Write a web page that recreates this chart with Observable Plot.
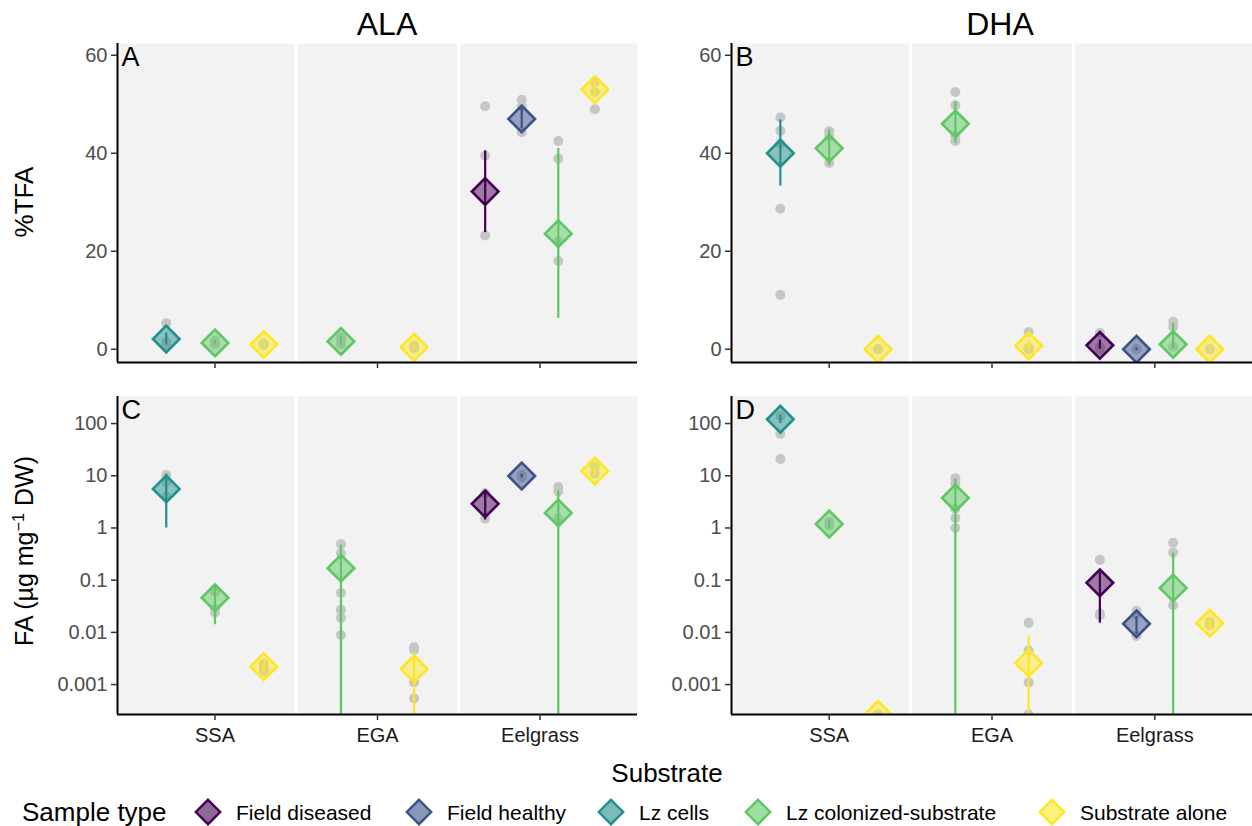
<!DOCTYPE html>
<html>
<head>
<meta charset="utf-8">
<script src="https://cdn.jsdelivr.net/npm/d3@7"></script>
<script src="https://cdn.jsdelivr.net/npm/@observablehq/plot@0.6"></script>
<style>
  body { margin: 0; width: 1252px; height: 826px; position: relative; background: #fff; overflow: hidden;
         font-family: "Liberation Sans", Arial, Helvetica, sans-serif; color: #000; }
  .abs { position: absolute; }
  .ctr { transform: translate(-50%, -50%); white-space: nowrap; }
  .rot { transform: translate(-50%, -50%) rotate(-90deg); white-space: nowrap; }
  .lg { position: absolute; top: 812px; transform: translateY(-50%); white-space: nowrap; line-height: 1; }
</style>
</head>
<body>
<script>
// ---------- categories ----------
const sampleTypes = ["Field diseased", "Field healthy", "Lz cells", "Lz colonized-substrate", "Substrate alone"];
const typeColors = ["#440154", "#3B528B", "#21908C", "#5DC863", "#FDE725"];
const substrates = ["SSA", "EGA", "Eelgrass"];
const fattyAcids = ["ALA", "DHA"];
const pctTicks = [0, 20, 40, 60];
const faTicks = [0.001, 0.01, 0.1, 1, 10, 100];

// ---------- summaries: [substrate, sample type, mean, lower, upper] ----------
const alaPctSummary = [
  ["SSA", "Lz cells", 2.1, 0.9, 3.3],
  ["SSA", "Lz colonized-substrate", 1.3, 0.9, 1.8],
  ["SSA", "Substrate alone", 1.0, 0.8, 1.2],
  ["EGA", "Lz colonized-substrate", 1.6, 0.8, 2.5],
  ["EGA", "Substrate alone", 0.4, 0.1, 0.8],
  ["Eelgrass", "Field diseased", 32.2, 23.8, 40.5],
  ["Eelgrass", "Field healthy", 47.0, 45.0, 49.5],
  ["Eelgrass", "Lz colonized-substrate", 23.6, 6.3, 41.0],
  ["Eelgrass", "Substrate alone", 53.0, 51.5, 54.5]
];
const dhaPctSummary = [
  ["SSA", "Lz cells", 40.0, 33.3, 46.8],
  ["SSA", "Lz colonized-substrate", 41.0, 37.5, 44.8],
  ["SSA", "Substrate alone", 0.0, 0.0, 0.0],
  ["EGA", "Lz colonized-substrate", 46.0, 42.0, 50.5],
  ["EGA", "Substrate alone", 0.7, 0.0, 1.8],
  ["Eelgrass", "Field diseased", 0.8, 0.0, 1.9],
  ["Eelgrass", "Field healthy", 0.0, -0.3, 0.3],
  ["Eelgrass", "Lz colonized-substrate", 1.0, 0.2, 5.3],
  ["Eelgrass", "Substrate alone", 0.0, 0.0, 0.0]
];
const alaFaSummary = [
  ["SSA", "Lz cells", 5.6, 1.0, 10.8],
  ["SSA", "Lz colonized-substrate", 0.046, 0.014, 0.078],
  ["SSA", "Substrate alone", 0.0022, 0.0017, 0.0028],
  ["EGA", "Lz colonized-substrate", 0.17, 0, 0.47],
  ["EGA", "Substrate alone", 0.002, 0, 0.0039],
  ["Eelgrass", "Field diseased", 2.9, 1.42, 5.1],
  ["Eelgrass", "Field healthy", 9.9, 9.0, 10.8],
  ["Eelgrass", "Lz colonized-substrate", 1.94, 0, 5.1],
  ["Eelgrass", "Substrate alone", 12.3, 10.5, 14.5]
];
const dhaFaSummary = [
  ["SSA", "Lz cells", 121, 100, 145],
  ["SSA", "Lz colonized-substrate", 1.19, 1.0, 1.4],
  ["SSA", "Substrate alone", 0, 0, 0],
  ["EGA", "Lz colonized-substrate", 3.75, 0, 8.7],
  ["EGA", "Substrate alone", 0.0026, 0, 0.0086],
  ["Eelgrass", "Field diseased", 0.089, 0.015, 0.14],
  ["Eelgrass", "Field healthy", 0.0146, 0.009, 0.02],
  ["Eelgrass", "Lz colonized-substrate", 0.071, 0, 0.33],
  ["Eelgrass", "Substrate alone", 0.015, 0.012, 0.019]
];

// ---------- replicate values: [substrate, sample type, values] ----------
const alaPctRaw = [
  ["SSA", "Lz cells", [5.3, 1.5, 0.8]],
  ["SSA", "Lz colonized-substrate", [1.8, 1.0, 1.2]],
  ["SSA", "Substrate alone", [1.2, 0.9, 1.0]],
  ["EGA", "Lz colonized-substrate", [2.4, 1.0, 1.5]],
  ["EGA", "Substrate alone", [0.7, 0.2, 0.3]],
  ["Eelgrass", "Field diseased", [49.6, 39.5, 23.2]],
  ["Eelgrass", "Field healthy", [50.9, 49.6, 44.3]],
  ["Eelgrass", "Lz colonized-substrate", [42.5, 38.9, 18.0, 22.0]],
  ["Eelgrass", "Substrate alone", [54.5, 52.5, 49.0]]
];
const dhaPctRaw = [
  ["SSA", "Lz cells", [47.3, 44.6, 42.0, 28.7, 11.1]],
  ["SSA", "Lz colonized-substrate", [44.5, 43.5, 38.0]],
  ["SSA", "Substrate alone", [0, 0, 0]],
  ["EGA", "Lz colonized-substrate", [52.5, 49.8, 43.5, 42.5]],
  ["EGA", "Substrate alone", [3.5, 0, 0.3]],
  ["Eelgrass", "Field diseased", [3.3, 0.5, 0]],
  ["Eelgrass", "Field healthy", [0.1, 0, 0]],
  ["Eelgrass", "Lz colonized-substrate", [5.6, 4.6, 0.5]],
  ["Eelgrass", "Substrate alone", [0, 0]]
];
const alaFaRaw = [
  ["SSA", "Lz cells", [10.3, 7.5, 4.0]],
  ["SSA", "Lz colonized-substrate", [0.06, 0.028, 0.024]],
  ["SSA", "Substrate alone", [0.0025, 0.002, 0.0018]],
  ["EGA", "Lz colonized-substrate", [0.49, 0.33, 0.057, 0.027, 0.019, 0.0089]],
  ["EGA", "Substrate alone", [0.0052, 0.0046, 0.0011, 0.00054]],
  ["Eelgrass", "Field diseased", [4.6, 1.5]],
  ["Eelgrass", "Field healthy", [10.5, 9.3]],
  ["Eelgrass", "Lz colonized-substrate", [6.1, 5.0, 1.5]],
  ["Eelgrass", "Substrate alone", [15, 11]]
];
const dhaFaRaw = [
  ["SSA", "Lz cells", [140, 63, 21]],
  ["SSA", "Lz colonized-substrate", [1.3, 1.1]],
  ["SSA", "Substrate alone", [0, 0]],
  ["EGA", "Lz colonized-substrate", [9.0, 7.0, 2.3, 1.55, 1.0]],
  ["EGA", "Substrate alone", [0.0152, 0.0045, 0.0011, 0]],
  ["Eelgrass", "Field diseased", [0.245, 0.023, 0.021]],
  ["Eelgrass", "Field healthy", [0.026, 0.022, 0.0085]],
  ["Eelgrass", "Lz colonized-substrate", [0.52, 0.34, 0.033]],
  ["Eelgrass", "Substrate alone", [0.016, 0.014]]
];

// ---------- helpers ----------
const DODGE = 0.9;
function dodgeX(summary) {
  const pos = new Map();
  for (const s of substrates) {
    const present = sampleTypes.filter(t => summary.some(r => r[0] === s && r[1] === t));
    const n = present.length;
    present.forEach((t, i) => {
      pos.set(s + "|" + t, substrates.indexOf(s) + 1 + (i - (n - 1) / 2) * (DODGE / n));
    });
  }
  return pos;
}

function makePanel(cfg) {
  const isLog = cfg.yType === "log";
  const fix = v => isLog ? Math.max(v, 1e-9) : v;
  const pos = dodgeX(cfg.summary);
  const summ = cfg.summary.map(([s, t, m, lo, hi]) => ({x: pos.get(s + "|" + t), type: t, mean: fix(m), lo: fix(lo), hi: fix(hi)}));
  const raw = cfg.raw.flatMap(([s, t, vals]) => vals.map(v => ({x: pos.get(s + "|" + t), type: t, v: fix(v)})));
  return Plot.plot({
    width: cfg.width, height: cfg.height,
    marginLeft: cfg.marginLeft, marginRight: cfg.marginRight,
    marginTop: cfg.marginTop, marginBottom: cfg.marginBottom,
    x: {domain: [0.4, 3.6]},
    y: {type: cfg.yType, domain: cfg.yDomain, clamp: true},
    color: {domain: sampleTypes, range: typeColors},
    style: {background: "transparent", fontFamily: '"Liberation Sans", Arial, sans-serif', fontSize: "20px", overflow: "visible"},
    marks: [
      Plot.frame({fill: "#f2f2f2", stroke: "none"}),
      Plot.ruleX([1.5, 2.5], {stroke: "white", strokeWidth: 3}),
      Plot.dot(raw, {x: "x", y: "v", r: 5, fill: "#c6c6c6", stroke: "none", clip: true}),
      Plot.ruleX(summ, {x: "x", y1: "lo", y2: "hi", stroke: "type", strokeWidth: 2.2, clip: true}),
      Plot.dot(summ, {x: "x", y: "mean", symbol: "diamond2", r: 12, fill: "type", fillOpacity: 0.5,
                      stroke: "type", strokeWidth: 2.6, clip: true}),
      Plot.ruleX([0.4], {stroke: "#000", strokeWidth: 2}),
      Plot.ruleY([cfg.yDomain[0]], {stroke: "#000", strokeWidth: 2}),
      Plot.axisX({ticks: [1, 2, 3], tickFormat: cfg.showX ? (d => substrates[d - 1]) : (() => ""),
                  tickSize: 6, tickPadding: 7, label: null, stroke: "#333", fill: "#1a1a1a", strokeWidth: 1.5, fontSize: 20}),
      Plot.axisY({ticks: cfg.yTicks, tickFormat: d => String(d), tickSize: 6, tickPadding: 4,
                  label: null, stroke: "#333", fill: "#4d4d4d", strokeWidth: 1.5, fontSize: 20}),
      Plot.text([cfg.letter], {frameAnchor: "top-left", dx: 4, dy: 3, fontSize: 27, lineAnchor: "top", fill: "#000"})
    ]
  });
}

function place(node, left, top) {
  node.style.position = "absolute";
  node.style.left = left + "px";
  node.style.top = top + "px";
  document.body.appendChild(node);
}

const row1 = {yType: "linear", yDomain: [-2.7, 62.4], yTicks: pctTicks, marginTop: 5, marginBottom: 12, height: 5 + 319 + 12, showX: false};
const row2 = {yType: "log", yDomain: [2.67e-4, 330], yTicks: faTicks, marginTop: 5, marginBottom: 45, height: 5 + 318 + 45, showX: true};
const col1 = {width: 80 + 520, marginLeft: 80, marginRight: 0};
const col2 = {width: 80 + 521, marginLeft: 80, marginRight: 0};

place(makePanel({...row1, ...col1, summary: alaPctSummary, raw: alaPctRaw, letter: "A"}), 37, 38);
place(makePanel({...row1, ...col2, summary: dhaPctSummary, raw: dhaPctRaw, letter: "B"}), 651, 38);
place(makePanel({...row2, ...col1, summary: alaFaSummary, raw: alaFaRaw, letter: "C"}), 37, 391);
place(makePanel({...row2, ...col2, summary: dhaFaSummary, raw: dhaFaRaw, letter: "D"}), 651, 391);

// ---------- titles ----------
function label(html, x, y, size, cls) {
  const d = document.createElement("div");
  d.className = "abs " + cls;
  d.style.left = x + "px"; d.style.top = y + "px"; d.style.fontSize = size + "px";
  d.innerHTML = html;
  document.body.appendChild(d);
}
label(fattyAcids[0], 387, 24, 32, "ctr");
label(fattyAcids[1], 1000, 24, 32, "ctr");
label("%TFA", 24, 202, 26, "rot");
label("FA (µg mg<sup style='font-size:0.65em;vertical-align:0.55em;line-height:0'>−1</sup> DW)", 24, 551, 25, "rot");
label("Substrate", 667, 773, 26, "ctr");

// ---------- legend ----------
const legendKeyCenters = [208, 419, 611, 758, 1052];
function legendItem(html, left, size) {
  const d = document.createElement("div");
  d.className = "lg";
  d.style.left = left + "px";
  d.style.fontSize = size + "px";
  d.innerHTML = html;
  document.body.appendChild(d);
}
legendItem("Sample type", 22, 26);
sampleTypes.forEach((t, i) => {
  const c = typeColors[i];
  const cx = legendKeyCenters[i];
  legendItem(`<svg width="28" height="28" viewBox="0 0 28 28" style="display:block">
    <path d="M14 1.8 L26.2 14 L14 26.2 L1.8 14 Z" fill="${c}" fill-opacity="0.6" stroke="${c}" stroke-width="2.4"/></svg>`, cx - 14, 21);
  legendItem(t, cx + 28, 21);
});
</script>
</body>
</html>
